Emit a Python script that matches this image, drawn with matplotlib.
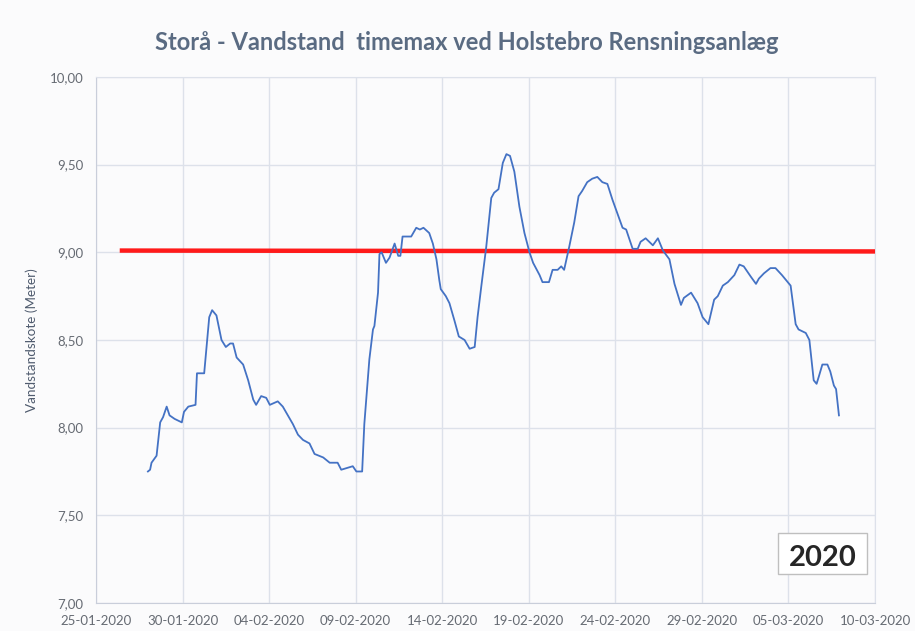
import numpy as np
import pandas as pd
import matplotlib
matplotlib.use("Agg")
import matplotlib.pyplot as plt
import matplotlib.dates as mdates
from matplotlib.patches import Rectangle
from matplotlib.ticker import FuncFormatter, MultipleLocator

plt.rcParams['font.family'] = ['Lato', 'DejaVu Sans']

# Vandstand timemax (m)
times = [
    "2020-01-28 00:00", "2020-01-28 03:00", "2020-01-28 05:00", "2020-01-28 12:00",
    "2020-01-28 17:00", "2020-01-28 21:00", "2020-01-29 02:00", "2020-01-29 06:00",
    "2020-01-29 13:00", "2020-01-29 23:00", "2020-01-30 02:00", "2020-01-30 08:00",
    "2020-01-30 18:00", "2020-01-30 20:00", "2020-01-31 06:00", "2020-01-31 13:00",
    "2020-01-31 17:00", "2020-01-31 23:00", "2020-02-01 06:00", "2020-02-01 12:00",
    "2020-02-01 18:00", "2020-02-01 22:00", "2020-02-02 03:00", "2020-02-02 12:00",
    "2020-02-02 19:00", "2020-02-03 02:00", "2020-02-03 06:00", "2020-02-03 13:00",
    "2020-02-03 20:00", "2020-02-04 01:00", "2020-02-04 12:00", "2020-02-04 19:00",
    "2020-02-05 09:00", "2020-02-05 16:00", "2020-02-05 23:00", "2020-02-06 08:00",
    "2020-02-06 15:00", "2020-02-07 03:00", "2020-02-07 12:00", "2020-02-07 23:00",
    "2020-02-08 04:00", "2020-02-08 20:00", "2020-02-09 01:00", "2020-02-09 09:00",
    "2020-02-09 12:00", "2020-02-09 19:00", "2020-02-10 00:00", "2020-02-10 02:00",
    "2020-02-10 07:00", "2020-02-10 09:00", "2020-02-10 12:00", "2020-02-10 18:00",
    "2020-02-10 23:00", "2020-02-11 06:00", "2020-02-11 11:00", "2020-02-11 14:00",
    "2020-02-11 17:00", "2020-02-12 05:00", "2020-02-12 12:00", "2020-02-12 17:00",
    "2020-02-12 22:00", "2020-02-13 06:00", "2020-02-13 11:00", "2020-02-13 16:00",
    "2020-02-13 20:00", "2020-02-13 22:00", "2020-02-14 05:00", "2020-02-14 10:00",
    "2020-02-14 17:00", "2020-02-14 23:00", "2020-02-15 07:00", "2020-02-15 14:00",
    "2020-02-15 21:00", "2020-02-16 01:00", "2020-02-16 06:00", "2020-02-16 13:00",
    "2020-02-16 20:00", "2020-02-17 00:00", "2020-02-17 06:00", "2020-02-17 12:00",
    "2020-02-17 17:00", "2020-02-17 22:00", "2020-02-18 04:00", "2020-02-18 11:00",
    "2020-02-18 18:00", "2020-02-19 01:00", "2020-02-19 06:00", "2020-02-19 15:00",
    "2020-02-19 19:00", "2020-02-20 04:00", "2020-02-20 09:00", "2020-02-20 16:00",
    "2020-02-20 21:00", "2020-02-21 01:00", "2020-02-21 08:00", "2020-02-21 15:00",
    "2020-02-21 21:00", "2020-02-22 02:00", "2020-02-22 09:00", "2020-02-22 16:00",
    "2020-02-22 23:00", "2020-02-23 06:00", "2020-02-23 13:00", "2020-02-23 20:00",
    "2020-02-24 03:00", "2020-02-24 10:00", "2020-02-24 15:00", "2020-02-25 00:00",
    "2020-02-25 07:00", "2020-02-25 11:00", "2020-02-25 18:00", "2020-02-26 04:00",
    "2020-02-26 11:00", "2020-02-26 18:00", "2020-02-27 03:00", "2020-02-27 10:00",
    "2020-02-27 19:00", "2020-02-27 23:00", "2020-02-28 09:00", "2020-02-28 18:00",
    "2020-02-29 01:00", "2020-02-29 09:00", "2020-02-29 17:00", "2020-02-29 22:00",
    "2020-03-01 05:00", "2020-03-01 12:00", "2020-03-01 21:00", "2020-03-02 04:00",
    "2020-03-02 10:00", "2020-03-02 20:00", "2020-03-03 03:00", "2020-03-03 07:00",
    "2020-03-03 14:00", "2020-03-03 23:00", "2020-03-04 06:00", "2020-03-04 15:00",
    "2020-03-05 03:00", "2020-03-05 10:00", "2020-03-05 14:00", "2020-03-06 00:00",
    "2020-03-06 05:00", "2020-03-06 11:00", "2020-03-06 15:00", "2020-03-06 18:00",
    "2020-03-06 23:00", "2020-03-07 06:00", "2020-03-07 10:00", "2020-03-07 15:00",
    "2020-03-07 18:00", "2020-03-07 22:00",
]
level = [
    7.75, 7.76, 7.80, 7.84, 8.03, 8.06, 8.12, 8.07, 8.05, 8.03, 8.09, 8.12,
    8.13, 8.31, 8.31, 8.63, 8.67, 8.64, 8.50, 8.46, 8.48, 8.48, 8.40, 8.36,
    8.27, 8.16, 8.13, 8.18, 8.17, 8.13, 8.15, 8.12, 8.02, 7.96, 7.93, 7.91,
    7.85, 7.83, 7.80, 7.80, 7.76, 7.78, 7.75, 7.75, 8.02, 8.39, 8.56, 8.58,
    8.77, 8.99, 9.00, 8.94, 8.97, 9.05, 8.98, 8.98, 9.09, 9.09, 9.14, 9.13,
    9.14, 9.11, 9.05, 8.96, 8.84, 8.79, 8.75, 8.71, 8.61, 8.52, 8.50, 8.45,
    8.46, 8.63, 8.80, 9.03, 9.31, 9.34, 9.36, 9.51, 9.56, 9.55, 9.46, 9.26,
    9.11, 9.00, 8.94, 8.87, 8.83, 8.83, 8.90, 8.90, 8.92, 8.90, 9.03, 9.17,
    9.32, 9.35, 9.40, 9.42, 9.43, 9.40, 9.39, 9.30, 9.22, 9.14, 9.13, 9.02,
    9.02, 9.06, 9.08, 9.04, 9.08, 9.01, 8.96, 8.82, 8.70, 8.74, 8.77, 8.71,
    8.63, 8.59, 8.73, 8.75, 8.81, 8.83, 8.87, 8.93, 8.92, 8.86, 8.82, 8.85,
    8.88, 8.91, 8.91, 8.87, 8.81, 8.59, 8.56, 8.54, 8.50, 8.27, 8.25, 8.29,
    8.36, 8.36, 8.32, 8.24, 8.22, 8.07,
]

# alarm level (red line)
limit_times = ["2020-01-26 12:00", "2020-03-10 00:00"]
limit_level = [9.01, 9.005]

x_start, x_end = "2020-01-25", "2020-03-10"

grid_col = '#dde1ea'
text_col = '#666b73'

fig = plt.figure(figsize=(9.15, 6.31), dpi=100, facecolor='#fbfbfc')
ax = fig.add_axes([0.1049, 0.0444, 0.8514, 0.8336])
ax.set_facecolor('#fbfbfc')

ax.plot(pd.to_datetime(limit_times), limit_level, color='#ff1a1a', linewidth=3.2, zorder=3)
ax.plot(pd.to_datetime(times), level, color='#4472c4', linewidth=1.3, zorder=4)

ax.set_xlim(pd.Timestamp(x_start), pd.Timestamp(x_end))
ax.set_ylim(7.0, 10.0)
ax.set_xticks(pd.date_range(x_start, x_end, freq='5D'))
ax.xaxis.set_major_formatter(mdates.DateFormatter('%d-%m-%Y'))
ax.yaxis.set_major_locator(MultipleLocator(0.5))
ax.yaxis.set_major_formatter(FuncFormatter(lambda v, p: f"{v:.2f}".replace('.', ',')))

ax.grid(True, color=grid_col, linewidth=1.0)
ax.tick_params(length=0, labelsize=9.5, labelcolor=text_col)
ax.tick_params(axis='x', pad=9)
ax.tick_params(axis='y', pad=9)
for s in ['top', 'right']:
    ax.spines[s].set_color(grid_col)
for s in ['left', 'bottom']:
    ax.spines[s].set_color('#c9ceda')

ax.set_ylabel('Vandstandskote (Meter)', fontsize=9.7, color='#4f5b6e')
ax.yaxis.set_label_coords(-0.0745, 0.5)

fig.text(0.510, 0.932, 'Storå - Vandstand  timemax ved Holstebro Rensningsanlæg',
         ha='center', va='center', fontsize=17, fontweight='bold', color='#5a6b82')

ax.add_patch(Rectangle((0.8755, 0.0551), 0.1143, 0.078, transform=ax.transAxes,
                       facecolor='white', edgecolor='#bfbfbf', linewidth=1.0, zorder=5))
ax.text(0.9326, 0.086, '2020', transform=ax.transAxes, ha='center', va='center',
        fontsize=21, fontweight='bold', color='#262626', zorder=6)

fig.savefig('out.png', dpi=100, facecolor=fig.get_facecolor())
